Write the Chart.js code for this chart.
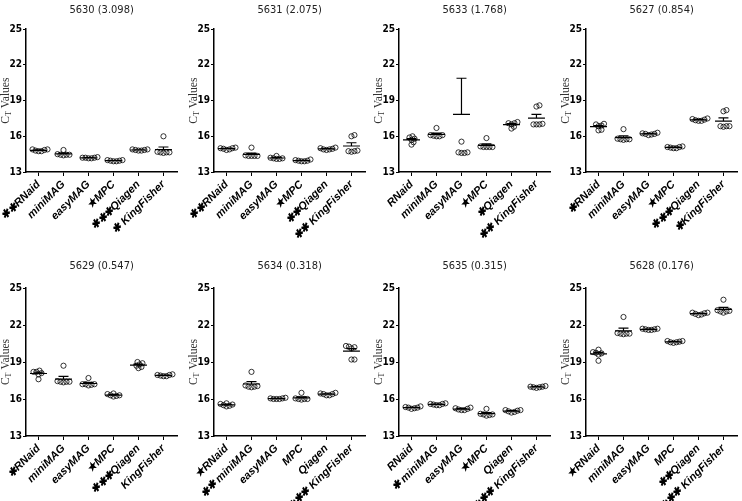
<!DOCTYPE html>
<html>
<head>
<meta charset="utf-8">
<script src="https://cdn.jsdelivr.net/npm/chart.js@4/dist/chart.umd.min.js"></script>
<style>
  html, body { margin: 0; padding: 0; background: #fff; }
  body { width: 742px; height: 501px; position: relative; overflow: hidden; }
  .panel { position: absolute; }
</style>
</head>
<body>
<script>
// extraction methods (x categories)
const methods = ['RNaid', 'miniMAG', 'easyMAG', 'MPC', 'Qiagen', 'KingFisher'];
const yTicks = [13, 16, 19, 22, 25];

// panel titles
const titles = ['5630 (3.098)', '5631 (2.075)', '5633 (1.768)', '5627 (0.854)',
                '5629 (0.547)', '5634 (0.318)', '5635 (0.315)', '5628 (0.176)'];

// significance prefixes for each tick label
const marks5630 = ['✱✱', '', '', '★', '✱✱✱', '✱ '];
const marks5631 = ['✱✱', '', '', '★', '✱✱', '✱✱ '];
const marks5633 = ['', '', '', '★', '✱', '✱✱ '];
const marks5627 = ['✱', '', '', '★', '✱✱✱', '✱'];
const marks5629 = ['✱', '', '', '★', '✱✱✱', ''];
const marks5634 = ['★', '✱✱ ', '', '', '', '✱✱✱ '];
const marks5635 = ['', '✱ ', '', '★', '', '✱✱✱ '];
const marks5628 = ['★', '', '', '', '✱✱', '✱✱✱ '];

// CT values, one array of replicates per method
const ct5630 = [[14.75, 14.8, 14.9, 14.85, 14.75, 14.9], [14.4, 14.45, 14.45, 14.5, 14.45, 14.85],
                [14.15, 14.2, 14.2, 14.25, 14.2, 14.15], [13.95, 13.9, 14.0, 13.95, 14.0, 13.9],
                [14.8, 14.85, 14.9, 14.85, 14.8, 14.9], [14.65, 14.65, 14.6, 14.65, 14.7, 16.0]];
const ct5631 = [[14.9, 15.0, 15.05, 14.95, 14.85, 15.0], [14.35, 14.35, 14.4, 14.35, 14.35, 15.05],
                [14.1, 14.15, 14.15, 14.2, 14.1, 14.35], [13.9, 13.95, 14.0, 13.9, 13.95, 14.05],
                [14.85, 14.9, 15.0, 14.95, 14.9, 15.05], [14.75, 14.7, 14.75, 14.8, 16.1, 16.0]];
const ct5633 = [[15.8, 15.7, 16.0, 15.5, 15.3, 15.9], [16.0, 16.05, 16.1, 16.0, 16.1, 16.7],
                [15.55, 14.6, 14.65, 14.6, 14.65, 33.0], [15.1, 15.1, 15.1, 15.15, 15.1, 15.85],
                [17.1, 17.0, 16.65, 16.8, 17.1, 17.2], [17.0, 17.0, 17.05, 17.0, 18.6, 18.5]];
const ct5627 = [[17.0, 16.9, 16.85, 17.05, 16.5, 16.55], [15.75, 15.75, 15.7, 15.75, 15.8, 16.6],
                [16.1, 16.2, 16.25, 16.2, 16.15, 16.3], [15.0, 15.05, 15.1, 15.15, 15.0, 15.1],
                [17.3, 17.4, 17.5, 17.45, 17.35, 17.3], [16.85, 16.85, 16.8, 16.85, 18.1, 18.2]];
const ct5629 = [[18.0, 18.2, 18.3, 18.1, 17.6, 18.2], [17.4, 17.35, 17.4, 17.45, 17.4, 18.7],
                [17.15, 17.2, 17.1, 17.2, 17.2, 17.7], [16.2, 16.3, 16.4, 16.45, 16.25, 16.3],
                [18.6, 18.8, 19.0, 18.5, 18.7, 18.9], [17.85, 17.9, 18.0, 17.95, 17.85, 17.95]];
const ct5634 = [[15.5, 15.45, 15.6, 15.4, 15.65, 15.55], [16.95, 17.0, 17.05, 17.1, 17.0, 18.2],
                [16.0, 16.05, 16.1, 16.0, 16.05, 16.0], [16.0, 15.95, 16.0, 16.05, 16.0, 16.5],
                [16.3, 16.4, 16.5, 16.45, 16.3, 16.4], [20.2, 20.25, 20.1, 20.3, 19.2, 19.2]];
const ct5635 = [[15.25, 15.3, 15.35, 15.3, 15.2, 15.4], [15.5, 15.6, 15.65, 15.55, 15.5, 15.6],
                [15.1, 15.2, 15.25, 15.15, 15.1, 15.3], [14.65, 14.7, 14.75, 14.8, 14.75, 15.2],
                [14.9, 15.0, 15.1, 15.05, 14.95, 15.1], [16.9, 17.0, 16.95, 17.0, 16.95, 17.05]];
const ct5628 = [[19.8, 19.7, 20.0, 19.6, 19.1, 19.75], [21.3, 21.3, 21.25, 21.35, 21.3, 22.65],
                [21.6, 21.65, 21.7, 21.65, 21.6, 21.7], [20.55, 20.6, 20.7, 20.65, 20.6, 20.7],
                [22.8, 22.9, 23.0, 22.95, 22.85, 23.0], [23.0, 23.1, 23.2, 23.15, 23.1, 24.05]];

const panelValues = [ct5630, ct5631, ct5633, ct5627, ct5629, ct5634, ct5635, ct5628];
const panelMarks = [marks5630, marks5631, marks5633, marks5627, marks5629, marks5634, marks5635, marks5628];

const NARROW = "'Liberation Sans Narrow', 'DejaVu Sans Condensed', 'Arial Narrow', sans-serif";
const EXTRA = 50;      // room on the left for rotated labels
const AXIS_W = 26;     // y tick label column
const AREA_W = 152;

// spread replicates sideways so circles do not sit on top of each other
function swarm(vals, ci) {
    const pxX = 25, pxY = 12, minD = 3.0;
    const placed = [];
    const order = vals.map((v, k) => k).sort((a, b) => vals[a] - vals[b]);
    order.forEach(k => {
        const v = vals[k];
        let off = 0;
        for (let s = 0; s < 60; s++) {
            const cand = s === 0 ? 0 : (s % 2 ? 1 : -1) * Math.ceil(s / 2) * 0.5;
            const ok = placed.every(p => Math.hypot(p.dx - cand, (p.v - v) * pxY) >= minD);
            if (ok) { off = cand; break; }
        }
        placed.push({ dx: off, v });
    });
    return placed.map(p => ({ x: ci + p.dx / pxX, y: p.v }));
}

function meanSem(vals) {
    const n = vals.length;
    const mean = vals.reduce((a, b) => a + b, 0) / n;
    const sd = Math.sqrt(vals.reduce((a, b) => a + (b - mean) ** 2, 0) / (n - 1));
    return { mean, sem: sd / Math.sqrt(n) };
}

// mean line + upper SEM whisker
const meanSemPlugin = {
    id: 'meanSem',
    afterDatasetsDraw(chart, args, opts) {
        const { ctx, scales: { x, y }, chartArea } = chart;
        ctx.save();
        ctx.beginPath();
        ctx.rect(chartArea.left, chartArea.top - 2, chartArea.width, chartArea.height + 2);
        ctx.clip();
        ctx.strokeStyle = '#000';
        ctx.lineWidth = 1.2;
        opts.stats.forEach((s, i) => {
            const ym = y.getPixelForValue(s.mean);
            const yt = y.getPixelForValue(s.mean + s.sem);
            ctx.beginPath();
            ctx.moveTo(x.getPixelForValue(i - 0.34), ym);
            ctx.lineTo(x.getPixelForValue(i + 0.34), ym);
            ctx.moveTo(x.getPixelForValue(i), ym);
            ctx.lineTo(x.getPixelForValue(i), yt);
            ctx.moveTo(x.getPixelForValue(i - 0.2), yt);
            ctx.lineTo(x.getPixelForValue(i + 0.2), yt);
            ctx.stroke();
        });
        ctx.restore();
    }
};

// rotated "CT Values" with subscript T
const yTitlePlugin = {
    id: 'yTitle',
    afterDraw(chart) {
        const { ctx, chartArea } = chart;
        const cx = chartArea.left - 20;
        const cy = (chartArea.top + chartArea.bottom) / 2;
        ctx.save();
        ctx.translate(cx, cy);
        ctx.rotate(-Math.PI / 2);
        ctx.fillStyle = '#333';
        ctx.textBaseline = 'middle';
        ctx.textAlign = 'left';
        const big = "11.5px 'Liberation Serif', 'Times New Roman', serif";
        const small = "8px 'Liberation Serif', 'Times New Roman', serif";
        ctx.font = big;
        const wC = ctx.measureText('C').width;
        const wV = ctx.measureText(' Values').width;
        ctx.font = small;
        const wT = ctx.measureText('T').width;
        let xx = -(wC + wT + wV) / 2;
        ctx.font = big;
        ctx.fillText('C', xx, 0);
        xx += wC;
        ctx.font = small;
        ctx.fillText('T', xx, 3);
        xx += wT;
        ctx.font = big;
        ctx.fillText(' Values', xx, 0);
        ctx.restore();
    }
};

function makePanel(idx, axisX, top, height, titleTop, titleBottom, xAxisH) {
    const div = document.createElement('div');
    div.className = 'panel';
    const width = EXTRA + AXIS_W + AREA_W + 4;
    div.style.left = (axisX - EXTRA - AXIS_W) + 'px';
    div.style.top = top + 'px';
    const canvas = document.createElement('canvas');
    canvas.width = width;
    canvas.height = height;
    div.appendChild(canvas);
    document.body.appendChild(div);

    const vals = panelValues[idx];
    const labels = methods.map((m, i) => panelMarks[idx][i] + m);
    const points = [];
    vals.forEach((v, i) => points.push(...swarm(v, i)));

    new Chart(canvas, {
        type: 'scatter',
        data: {
            datasets: [{
                data: points,
                pointStyle: 'circle',
                pointRadius: 2.6,
                pointBorderWidth: 0.8,
                borderColor: '#000',
                backgroundColor: 'rgba(0,0,0,0)'
            }]
        },
        options: {
            responsive: false,
            animation: false,
            devicePixelRatio: 1,
            layout: { padding: { left: 0, right: 4, top: 0, bottom: 0 } },
            plugins: {
                legend: { display: false },
                tooltip: { enabled: false },
                title: {
                    display: true,
                    text: titles[idx],
                    fullSize: false,
                    color: '#222',
                    font: { family: NARROW, size: 11, weight: 'normal', lineHeight: 1.2 },
                    padding: { top: titleTop, bottom: titleBottom }
                },
                meanSem: { stats: vals.map(meanSem) }
            },
            scales: {
                x: {
                    type: 'linear',
                    min: -0.5,
                    max: 5.55,
                    afterBuildTicks: s => { s.ticks = methods.map((m, i) => ({ value: i })); },
                    afterFit: s => { s.height = xAxisH; },
                    border: { color: '#000', width: 1.5 },
                    grid: { drawOnChartArea: false, drawTicks: true, tickLength: 4, color: '#000', lineWidth: 1 },
                    ticks: {
                        autoSkip: false,
                        minRotation: 45,
                        maxRotation: 45,
                        padding: 2,
                        color: '#000',
                        font: { family: 'Arial, "Liberation Sans", sans-serif', size: 11, weight: 'bold', style: 'italic' },
                        callback: v => labels[v]
                    }
                },
                y: {
                    min: 13,
                    max: 25,
                    afterBuildTicks: s => { s.ticks = yTicks.map(v => ({ value: v })); },
                    afterFit: s => { s.width = EXTRA + AXIS_W; },
                    border: { color: '#000', width: 1.5 },
                    grid: { drawOnChartArea: false, drawTicks: true, tickLength: 3, color: '#000', lineWidth: 1 },
                    ticks: {
                        padding: 1,
                        color: '#000',
                        font: { family: NARROW, size: 10, weight: 'bold' }
                    }
                }
            }
        },
        plugins: [meanSemPlugin, yTitlePlugin]
    });
}

const axisXs = [26, 214, 399, 586];
for (let i = 0; i < 4; i++) makePanel(i, axisXs[i], 0, 250, 4, 12, 78);
for (let i = 0; i < 4; i++) makePanel(i + 4, axisXs[i], 250, 251, 10, 14.8, 65);
</script>
</body>
</html>
